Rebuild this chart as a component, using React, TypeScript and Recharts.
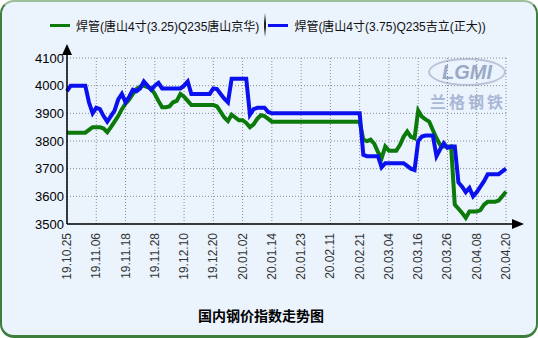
import React from "react";
import { LineChart, Line, XAxis, YAxis, CartesianGrid } from "recharts";

// tick labels on the x axis, one every 8 trading days
const dateLabels = [
  "19.10.25", "19.11.06", "19.11.18", "19.11.28", "19.12.10", "19.12.20",
  "20.01.02", "20.01.14", "20.01.23", "20.02.11", "20.02.21", "20.03.04",
  "20.03.16", "20.03.26", "20.04.08", "20.04.20",
];

const yTicks = [3500, 3600, 3700, 3800, 3900, 4000, 4100];

// 焊管(唐山4寸(3.25)Q235唐山京华)
const greenValues = [
  3830, 3830, 3830, 3830, 3830, 3830, 3840, 3850, 3850, 3850,
  3845, 3832, 3850, 3870, 3890, 3915, 3935, 3950, 3970, 3988,
  3997, 4000, 3995, 3990, 3970, 3945, 3922, 3922, 3925, 3940,
  3945, 3970, 3960, 3945, 3930, 3930, 3930, 3930, 3930, 3930,
  3930, 3925, 3905, 3885, 3872, 3895, 3885, 3875, 3875, 3865,
  3850, 3860, 3880, 3893, 3890, 3880, 3870, 3870, 3870, 3870,
  3870, 3870, 3870, 3870, 3870, 3870, 3870, 3870, 3870, 3870,
  3870, 3870, 3870, 3870, 3870, 3870, 3870, 3870, 3870, 3870,
  3870, 3805, 3800, 3805, 3790, 3760, 3738, 3780, 3765, 3765,
  3765, 3785, 3815, 3834, 3815, 3810, 3910, 3888, 3878, 3870,
  3840, 3810, 3786, 3780, 3780, 3780, 3570, 3555, 3540, 3522,
  3545, 3545, 3545, 3550, 3570, 3580, 3580, 3580, 3585, 3600,
  3617,
];

// 焊管(唐山4寸(3.75)Q235吉立(正大))
const blueValues = [
  3980, 4000, 4000, 4000, 4000, 4000, 3940, 3900, 3920, 3915,
  3890, 3870, 3890, 3910, 3950, 3970, 3940, 3960, 3985, 3980,
  3990, 4015, 4000, 3985, 4000, 4010, 3990, 3990, 3990, 3990,
  3990, 3990, 4000, 4015, 3970, 3970, 3970, 3970, 3970, 3970,
  3990, 3988, 3970, 3953, 3940, 4025, 4025, 4025, 4025, 4025,
  3895, 3915, 3920, 3920, 3920, 3905, 3900, 3900, 3900, 3900,
  3900, 3900, 3900, 3900, 3900, 3900, 3900, 3900, 3900, 3900,
  3900, 3900, 3900, 3900, 3900, 3900, 3900, 3900, 3900, 3900,
  3900, 3750, 3745, 3745, 3745, 3745, 3705, 3720, 3720, 3720,
  3720, 3720, 3720, 3710, 3700, 3695, 3800, 3816, 3820, 3820,
  3820, 3745, 3770, 3792, 3775, 3780, 3780, 3650, 3635, 3615,
  3630, 3600, 3615, 3635, 3655, 3680, 3680, 3680, 3680, 3690,
  3700,
];

const data = greenValues.map((g, i) => ({ i, green: g, blue: blueValues[i] }));
const xTicks = dateLabels.map((_, k) => k * 8);

const latin = "'Liberation Sans', Arial, sans-serif";
const cjk = "'Liberation Sans', Arial, 'Noto Sans CJK SC', sans-serif";

function DateTick({ x, y, payload }: any) {
  const label = dateLabels[Math.round(payload.value / 8)];
  const ax = x + 4;
  return (
    <text
      x={ax}
      y={y}
      transform={`rotate(-90 ${ax} ${y})`}
      textAnchor="end"
      fontSize={12}
      fontFamily={latin}
      fill="#333"
    >
      {label}
    </text>
  );
}

export default function App() {
  return (
    <div
      style={{
        position: "absolute",
        left: 0,
        top: 0,
        width: 538,
        height: 338,
        background: "#fff",
      }}
    >
      <div
        style={{
          position: "absolute",
          inset: 0,
          background: "#ebf3fd",
          borderRadius: 14,
          border: "2px solid #3b7f3b",
          borderTopColor: "#9cbf9c",
          borderBottomWidth: 3,
          boxSizing: "border-box",
        }}
      />

      {/* watermark */}
      <div
        style={{
          position: "absolute",
          left: 428,
          top: 58,
          width: 78,
          height: 28,
          borderRadius: "50%",
          border: "2px solid #b8c4d8",
          boxSizing: "border-box",
          textAlign: "center",
          fontFamily: latin,
          fontStyle: "italic",
          fontWeight: "bold",
          fontSize: 20,
          lineHeight: "24px",
          color: "#9aa9c6",
        }}
      >
        LGMI
      </div>
      <div
        style={{
          position: "absolute",
          left: 426,
          top: 89,
          width: 84,
          textAlign: "center",
          fontFamily: "'Noto Sans CJK SC', sans-serif",
          fontWeight: "bold",
          fontSize: 16,
          letterSpacing: 3,
          color: "#a9b8d6",
        }}
      >
        兰格钢铁
      </div>

      {/* legend */}
      <div
        style={{
          position: "absolute",
          left: 50,
          top: 14,
          height: 22,
          display: "flex",
          alignItems: "center",
          fontFamily: cjk,
          fontSize: 12,
          color: "#111",
          whiteSpace: "nowrap",
        }}
      >
        <span style={{ width: 20, height: 3, background: "#0b7a0b", marginRight: 6 }} />
        <span>焊管(唐山4寸(3.25)Q235唐山京华)</span>
        <span
          style={{
            width: 2,
            height: 24,
            margin: "0 2px 0 5px",
            background: "linear-gradient(to bottom, rgba(0,0,0,0), #222 40%, #222 60%, rgba(0,0,0,0))",
          }}
        />
        <span style={{ width: 20, height: 3, background: "#0a10ee", marginRight: 6 }} />
        <span>焊管(唐山4寸(3.75)Q235吉立(正大))</span>
      </div>

      <div style={{ position: "absolute", left: 0, top: 0 }}>
        <LineChart
          width={538}
          height={338}
          data={data}
          margin={{ top: 58, right: 32, bottom: 0, left: 0 }}
        >
          <CartesianGrid stroke="#8a8a9a" strokeDasharray="1 2" />
          <XAxis
            type="number"
            dataKey="i"
            domain={[0, 120]}
            ticks={xTicks}
            interval={0}
            height={114}
            tickSize={0}
            tickMargin={9}
            axisLine={{ stroke: "#000", strokeWidth: 1.5 }}
            tick={<DateTick />}
          />
          <YAxis
            domain={[3500, 4100]}
            ticks={yTicks}
            width={67}
            tickSize={0}
            tickMargin={3}
            axisLine={{ stroke: "#000", strokeWidth: 1.5 }}
            tick={{ fill: "#000", fontSize: 13, fontFamily: latin }}
          />
          <Line
            type="linear"
            dataKey="green"
            stroke="#0b7a0b"
            strokeWidth={4}
            dot={false}
            isAnimationActive={false}
          />
          <Line
            type="linear"
            dataKey="blue"
            stroke="#0a10ee"
            strokeWidth={4}
            dot={false}
            isAnimationActive={false}
          />
        </LineChart>
      </div>

      {/* axis arrows */}
      <svg
        width={538}
        height={338}
        style={{ position: "absolute", left: 0, top: 0, pointerEvents: "none" }}
      >
        <line x1={67} y1={50} x2={67} y2={58} stroke="#000" strokeWidth={1.5} />
        <polygon points="67,44 62,55 72,55" fill="#000" />
        <line x1={506} y1={224} x2={514} y2={224} stroke="#000" strokeWidth={1.5} />
        <polygon points="524,224 512,219 512,229" fill="#000" />
      </svg>

      <div
        style={{
          position: "absolute",
          left: 0,
          width: 522,
          top: 305,
          textAlign: "center",
          fontFamily: "'Noto Sans CJK SC', sans-serif",
          fontWeight: "bold",
          fontSize: 14,
          color: "#000",
        }}
      >
        国内钢价指数走势图
      </div>
    </div>
  );
}
